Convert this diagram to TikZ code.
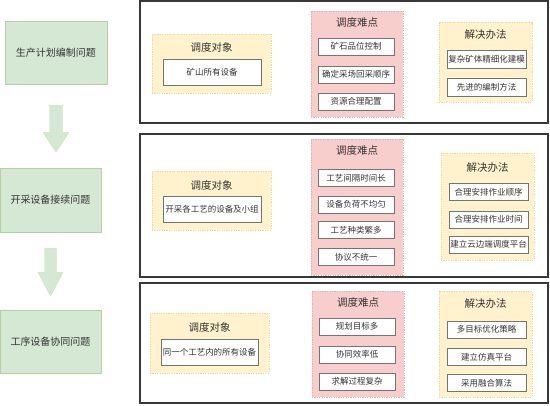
\documentclass[tikz,border=0pt]{standalone}
\usepackage{fontspec}
\setmainfont{Noto Sans CJK SC}
\usepackage{tikz}
\usetikzlibrary{calc}

\definecolor{grfill}{HTML}{D5E8D4}
\definecolor{grline}{HTML}{82B366}
\definecolor{ylfill}{HTML}{FFF2CC}
\definecolor{ylline}{HTML}{D6B656}
\definecolor{pkfill}{HTML}{F8CECC}
\definecolor{pkline}{HTML}{B85450}
\definecolor{txt}{HTML}{333333}

\tikzset{
  issuebox/.style={draw=grline!60, fill=grfill, line width=0.5pt, inner sep=0pt,
    font=\fontsize{10}{12}\selectfont, text=txt},
  panelbox/.style={draw=black!78, line width=1.4pt, fill=white, inner sep=0pt},
  targetbox/.style={draw=ylline!55, fill=ylfill, dash pattern=on 1.2pt off 1.2pt, line width=0.5pt, inner sep=0pt},
  hardbox/.style={draw=pkline!45, fill=pkfill, dash pattern=on 1.2pt off 1.2pt, line width=0.5pt, inner sep=0pt},
  grouptitle/.style={font=\fontsize{10.5}{12}\selectfont, text=txt, inner sep=0pt},
  itembox/.style={draw=black!55, fill=white, line width=0.6pt, inner sep=0pt,
    minimum height=17pt, font=\fontsize{8.5}{10}\selectfont, text=txt},
  flowarrow/.style={fill=grfill, draw=grline!40, line width=0.4pt}
}

\begin{document}
\begin{tikzpicture}[x=1pt, y=-1pt]
  \useasboundingbox (0,0) rectangle (550,406);

  % left: problem chain
  \node[issuebox, minimum width=102pt, minimum height=63pt] (g1) at (56,52.5) {生产计划编制问题};
  \node[issuebox, minimum width=101pt, minimum height=64pt] (g2) at (50.5,200) {开采设备接续问题};
  \node[issuebox, minimum width=101pt, minimum height=63pt] (g3) at (50.5,341.5) {工序设备协同问题};

  \coordinate (a1) at ($(g1.south)+(0,21)$);
  \coordinate (a2) at ($(g2.south)+(0,16)$);
  \path[flowarrow] (a1) ++(-6.5,0) -- ++(13,0) -- ++(0,27) -- ++(6.5,0)
    -- ++(-13,20) -- ++(-13,-20) -- ++(6.5,0) -- cycle;
  \path[flowarrow] (a2) ++(-6,0) -- ++(12,0) -- ++(0,24) -- ++(6.5,0)
    -- ++(-12.5,24) -- ++(-12.5,-24) -- ++(6.5,0) -- cycle;

  % panel 1
  \node[panelbox, minimum width=408pt, minimum height=122pt] (o1) at (344,62) {};
  \node[targetbox, minimum width=119pt, minimum height=59pt] (t1) at (211.5,63.5) {};
  \node[grouptitle] (t1h) at (211.5,47) {调度对象};
  \node[itembox, minimum width=98pt, minimum height=26pt] (t1a) at (212,72) {矿山所有设备};
  \node[hardbox, minimum width=92pt, minimum height=106pt] (p1) at (357,64) {};
  \node[grouptitle] (p1h) at (357,22) {调度难点};
  \node[itembox, minimum width=76pt] (p1a) at (356,46.5) {矿石品位控制};
  \node[itembox, minimum width=76pt] (p1b) at (356,74.5) {确定采场回采顺序};
  \node[itembox, minimum width=76pt] (p1c) at (356,101.5) {资源合理配置};
  \node[targetbox, minimum width=93pt, minimum height=80pt] (s1) at (485.5,62) {};
  \node[grouptitle] (s1h) at (485.5,35) {解决办法};
  \node[itembox, minimum width=79pt, minimum height=18pt] (s1a) at (486.5,59.5) {复杂矿体精细化建模};
  \node[itembox, minimum width=79pt, minimum height=18pt] (s1b) at (486.5,87.5) {先进的编制方法};

  % panel 2
  \node[panelbox, minimum width=408pt, minimum height=143pt] (o2) at (344,205.5) {};
  \node[targetbox, minimum width=119pt, minimum height=59pt] (t2) at (211.5,200.5) {};
  \node[grouptitle] (t2h) at (211.5,185) {调度对象};
  \node[itembox, minimum width=98pt, minimum height=26pt] (t2a) at (212,209) {开采各工艺的设备及小组};
  \node[hardbox, minimum width=92pt, minimum height=136pt] (p2) at (357,207) {};
  \node[grouptitle] (p2h) at (357,150) {调度难点};
  \node[itembox, minimum width=76pt] (p2a) at (356,178) {工艺间隔时间长};
  \node[itembox, minimum width=76pt] (p2b) at (356,204.5) {设备负荷不均匀};
  \node[itembox, minimum width=76pt] (p2c) at (356,230) {工艺种类繁多};
  \node[itembox, minimum width=76pt] (p2d) at (356,257) {协议不统一};
  \node[targetbox, minimum width=93pt, minimum height=107pt] (s2) at (487.5,206.5) {};
  \node[grouptitle] (s2h) at (487.5,168) {解决办法};
  \node[itembox, minimum width=79pt] (s2a) at (488.5,192) {合理安排作业顺序};
  \node[itembox, minimum width=79pt] (s2b) at (488.5,219.5) {合理安排作业时间};
  \node[itembox, minimum width=79pt] (s2c) at (488.5,244.5) {建立云边端调度平台};

  % panel 3
  \node[panelbox, minimum width=408pt, minimum height=120pt] (o3) at (344,343) {};
  \node[targetbox, minimum width=119pt, minimum height=60pt] (t3) at (209.5,343) {};
  \node[grouptitle] (t3h) at (209.5,327) {调度对象};
  \node[itembox, minimum width=97pt, minimum height=26pt] (t3a) at (209.5,352) {同一个工艺内的所有设备};
  \node[hardbox, minimum width=92pt, minimum height=106pt] (p3) at (358,344) {};
  \node[grouptitle] (p3h) at (358,302) {调度难点};
  \node[itembox, minimum width=76pt] (p3a) at (357,326.5) {规划目标多};
  \node[itembox, minimum width=76pt] (p3b) at (357,354.5) {协同效率低};
  \node[itembox, minimum width=76pt] (p3c) at (357,381.5) {求解过程复杂};
  \node[targetbox, minimum width=93pt, minimum height=106pt] (s3) at (485.5,344) {};
  \node[grouptitle] (s3h) at (485.5,304) {解决办法};
  \node[itembox, minimum width=79pt] (s3a) at (486.5,329.5) {多目标优化策略};
  \node[itembox, minimum width=79pt] (s3b) at (486.5,357) {建立仿真平台};
  \node[itembox, minimum width=79pt] (s3c) at (486.5,383) {采用融合算法};
\end{tikzpicture}
\end{document}
